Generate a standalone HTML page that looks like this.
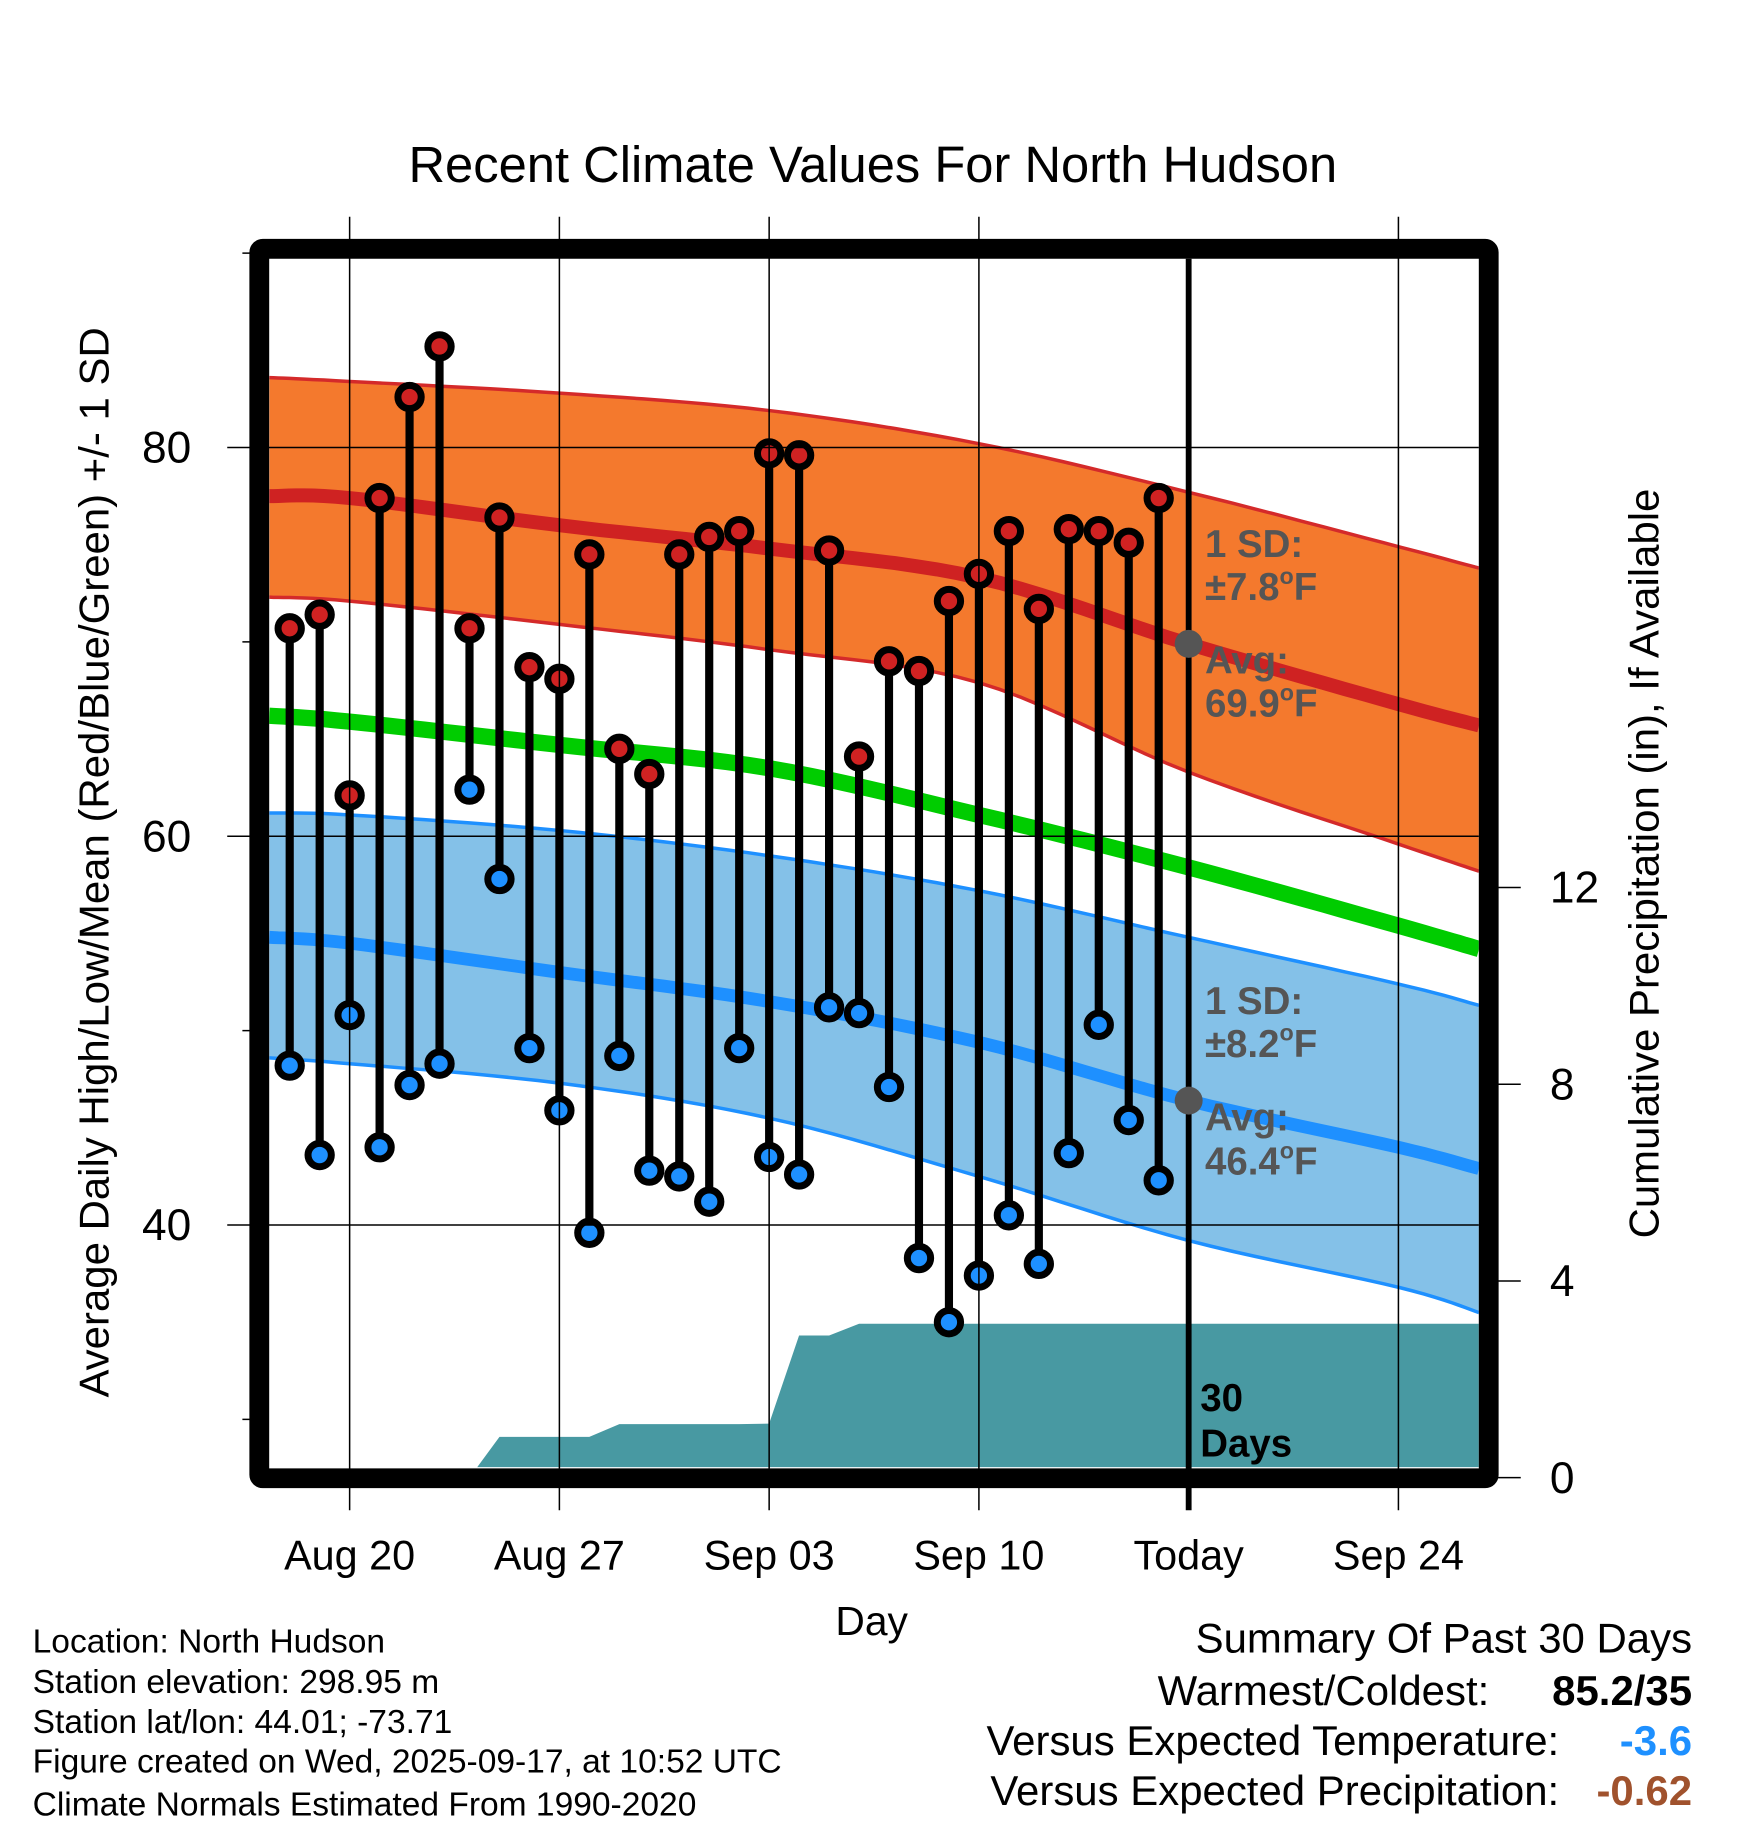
<!DOCTYPE html>
<html><head><meta charset="utf-8"><style>
html,body{margin:0;padding:0;background:#fff;}
svg{display:block;font-family:"Liberation Sans",Arial,sans-serif;}
</style></head><body>
<svg id="chart" width="1748" height="1828" viewBox="0 0 1500 1568.6" xmlns="http://www.w3.org/2000/svg">
<defs><clipPath id="plotclip"><rect x="231" y="222" width="1038" height="1037"/></clipPath></defs>
<g id="plot" clip-path="url(#plotclip)"></g>
<g id="axes"></g>
<text x="749" y="156" font-size="43.5" text-anchor="middle">Recent Climate Values For North Hudson</text>
<text transform="translate(93,740) rotate(-90)" font-size="36" text-anchor="middle">Average Daily High/Low/Mean (Red/Blue/Green) +/- 1 SD</text>
<text transform="translate(1423,741) rotate(-90)" font-size="36" text-anchor="middle">Cumulative Precipitation (in), If Available</text>
<text x="748" y="1403" font-size="35" text-anchor="middle">Day</text>
<g font-size="28.8">
<text x="28" y="1418">Location: North Hudson</text>
<text x="28" y="1453">Station elevation: 298.95 m</text>
<text x="28" y="1487">Station lat/lon: 44.01; -73.71</text>
<text x="28" y="1521">Figure created on Wed, 2025-09-17, at 10:52 UTC</text>
<text x="28" y="1558">Climate Normals Estimated From 1990-2020</text>
</g>
<g font-size="36">
<text x="1452" y="1418" text-anchor="end">Summary Of Past 30 Days</text>
<text x="1278" y="1463" text-anchor="end">Warmest/Coldest:</text>
<text x="1452" y="1463" text-anchor="end" font-weight="bold">85.2/35</text>
<text x="1338" y="1506" text-anchor="end">Versus Expected Temperature:</text>
<text x="1452" y="1506" text-anchor="end" font-weight="bold" fill="#1e90ff">-3.6</text>
<text x="1338" y="1549" text-anchor="end">Versus Expected Precipitation:</text>
<text x="1452" y="1549" text-anchor="end" font-weight="bold" fill="#a0522d">-0.62</text>
</g>
</svg>
<script>
const NS="http://www.w3.org/2000/svg";
// ---- data ----
const dayLabels=["Aug 18","Aug 19","Aug 20","Aug 21","Aug 22","Aug 23","Aug 24","Aug 25","Aug 26","Aug 27","Aug 28","Aug 29","Aug 30","Aug 31","Sep 01","Sep 02","Sep 03","Sep 04","Sep 05","Sep 06","Sep 07","Sep 08","Sep 09","Sep 10","Sep 11","Sep 12","Sep 13","Sep 14","Sep 15","Sep 16"];
const highs=[70.7,71.4,62.1,77.4,82.6,85.2,70.7,76.4,68.7,68.1,74.5,64.5,63.2,74.5,75.4,75.7,79.7,79.6,74.7,64.1,69.0,68.5,72.1,73.5,75.7,71.7,75.8,75.7,75.1,77.4];
const lows=[48.2,43.6,50.8,44.0,47.2,48.3,62.4,57.8,49.1,45.9,39.6,48.7,42.8,42.5,41.2,49.1,43.5,42.6,51.2,50.9,47.1,38.3,35.0,37.4,40.5,38.0,43.7,50.3,45.4,42.3];
const precip=[0,0,0,0,0,0,0,0.83,0.83,0.83,0.83,1.09,1.09,1.09,1.09,1.09,1.10,2.89,2.89,3.13,3.13,3.13,3.13,3.13,3.13,3.13,3.13,3.13,3.13,3.13];
const normDays=[-0.68,2,9,16,23,30,37,39.69];
const normHighUpper=[83.6,83.4,82.8,81.9,80.2,77.7,74.9,73.8];
const normHighMean=[77.5,77.4,76.0,74.8,73.3,69.9,66.8,65.7];
const normHighLower=[72.3,72.1,70.9,69.6,67.9,63.3,59.6,58.2];
const normMean=[66.2,65.9,64.7,63.5,61.1,58.4,55.4,54.2];
const normLowUpper=[61.2,61.1,60.3,59.0,57.2,54.8,52.4,51.3];
const normLowMean=[54.8,54.5,53.0,51.5,49.4,46.4,44.0,42.9];
const normLowLower=[48.6,48.3,47.3,45.5,42.5,39.2,36.8,35.5];
const xTickDays=[2,9,16,23,30,37];
const xTickLabels=["Aug 20","Aug 27","Sep 03","Sep 10","Today","Sep 24"];
const yTicks=[40,60,80];
const yMinorTicks=[30,50,70,90];
const y2Ticks=[0,4,8,12];
const todayDay=30;
// ---- scales ----
const X=d=>248.6+d*25.714;
const Y=t=>384-(t-80)*16.68;
const YP=p=>1268-p*42.2;
const plot=document.getElementById('plot');
const axes=document.getElementById('axes');
function mk(tag,attrs,parent){const e=document.createElementNS(NS,tag);for(const k in attrs)e.setAttribute(k,attrs[k]);parent.appendChild(e);return e;}
// smooth interpolation (Catmull-Rom in data space)
function pts(arr){
  const out=[];const n=normDays.length;
  for(let i=0;i<n-1;i++){
    const x0=normDays[Math.max(i-1,0)],x1=normDays[i],x2=normDays[i+1],x3=normDays[Math.min(i+2,n-1)];
    const y0=arr[Math.max(i-1,0)],y1=arr[i],y2=arr[i+1],y3=arr[Math.min(i+2,n-1)];
    for(let s=0;s<10;s++){
      const t=s/10,t2=t*t,t3=t2*t;
      const f=(p0,p1,p2,p3)=>0.5*(2*p1+(-p0+p2)*t+(2*p0-5*p1+4*p2-p3)*t2+(-p0+3*p1-3*p2+p3)*t3);
      out.push(X(f(x0,x1,x2,x3)).toFixed(1)+','+Y(f(y0,y1,y2,y3)).toFixed(1));
    }
  }
  out.push(X(normDays[n-1]).toFixed(1)+','+Y(arr[n-1]).toFixed(1));
  return out;
}
let e;
e=mk('polygon',{points:pts(normHighUpper).concat(pts(normHighLower).reverse()).join(' '),fill:'#f4792d',stroke:'none'},plot);


e=mk('polygon',{points:pts(normLowUpper).concat(pts(normLowLower).reverse()).join(' '),fill:'#84c1e8',stroke:'none'},plot);


// precip area
const pp=[X(-1)+','+YP(0)];
precip.forEach((p,i)=>pp.push(X(i).toFixed(1)+','+YP(p).toFixed(1)));
pp.push(X(41)+','+YP(precip[precip.length-1]));
pp.push(X(41)+','+YP(0));
e=mk('polygon',{points:pp.join(' '),fill:'#4899a2'},plot);


// gridlines
xTickDays.forEach((d,i)=>{if(d!==todayDay){e=mk('line',{x1:X(d),x2:X(d),y1:186,y2:1296,stroke:'#000','stroke-width':1.3},axes);}});
yTicks.forEach(t=>{e=mk('line',{x1:195,x2:1269,y1:Y(t),y2:Y(t),stroke:'#000','stroke-width':1.3},axes);});
function line(arr,color,w,name){e=mk('polyline',{points:pts(arr).join(' '),fill:'none',stroke:color,'stroke-width':w},plot);}
line(normHighUpper,'#d42a2a',3,'high-upper-line');
line(normHighLower,'#d42a2a',3,'high-lower-line');
line(normHighMean,'#cf2222',12,'high-mean-line');
line(normMean,'#00cc00',14,'mean-line');
line(normLowUpper,'#1e90ff',3,'low-upper-line');
line(normLowLower,'#1e90ff',3,'low-lower-line');
line(normLowMean,'#1e90ff',11,'low-mean-line');
highs.forEach((h,i)=>{
  e=mk('line',{x1:X(i),x2:X(i),y1:Y(h),y2:Y(lows[i]),stroke:'#000','stroke-width':7},plot);
  
  
});
highs.forEach((h,i)=>{
  e=mk('circle',{cx:X(i),cy:Y(h),r:10,fill:'#d02222',stroke:'#000','stroke-width':6},plot);
  
  
  e=mk('circle',{cx:X(i),cy:Y(lows[i]),r:10,fill:'#1e90ff',stroke:'#000','stroke-width':6},plot);
  
  
});
e=mk('line',{x1:X(todayDay),x2:X(todayDay),y1:222,y2:1296,stroke:'#000','stroke-width':5},axes);


e=mk('circle',{cx:X(todayDay),cy:Y(69.9),r:12,fill:'#555'},axes);


e=mk('circle',{cx:X(todayDay),cy:Y(46.4),r:12,fill:'#555'},axes);


e=mk('rect',{x:222.5,y:213.5,width:1055,height:1055,fill:'none',stroke:'#000','stroke-width':17,rx:3},axes);


yMinorTicks.forEach(t=>{e=mk('line',{x1:208,x2:222,y1:Y(t),y2:Y(t),stroke:'#000','stroke-width':1.3},axes);});
yTicks.forEach(t=>{e=mk('text',{x:143,y:Y(t)+13,'font-size':38,'text-anchor':'middle'},axes);e.textContent=t;});
y2Ticks.forEach(p=>{
  e=mk('line',{x1:1278,x2:1305,y1:YP(p),y2:YP(p),stroke:'#000','stroke-width':1.3},axes);
  
  
  e=mk('text',{x:1330,y:YP(p)+13,'font-size':38},axes);e.textContent=p;
  
  
});
xTickDays.forEach((d,i)=>{
  e=mk('text',{x:X(d),y:1347,'font-size':35.5,'text-anchor':'middle'},axes);e.textContent=xTickLabels[i];
  
  
});
function txt(x,y,s,fill,name){e=mk('text',{x:x,y:y,'font-size':33,'font-weight':'bold',fill:fill},axes);e.innerHTML=s;}
txt(1034,478,'1 SD:','#555','high-sd-label');
txt(1034,515,'±7.8<tspan font-size="20" dy="-14">o</tspan><tspan dy="14">F</tspan>','#555','high-sd-value');
txt(1034,578,'Avg:','#555','high-avg-label');
txt(1034,615,'69.9<tspan font-size="20" dy="-14">o</tspan><tspan dy="14">F</tspan>','#555','high-avg-value');
txt(1034,870,'1 SD:','#555','low-sd-label');
txt(1034,907,'±8.2<tspan font-size="20" dy="-14">o</tspan><tspan dy="14">F</tspan>','#555','low-sd-value');
txt(1034,970,'Avg:','#555','low-avg-label');
txt(1034,1008,'46.4<tspan font-size="20" dy="-14">o</tspan><tspan dy="14">F</tspan>','#555','low-avg-value');
txt(1030,1211,'30','#000','days-count');
txt(1030,1250,'Days','#000','days-label');
</script>
</body></html>
